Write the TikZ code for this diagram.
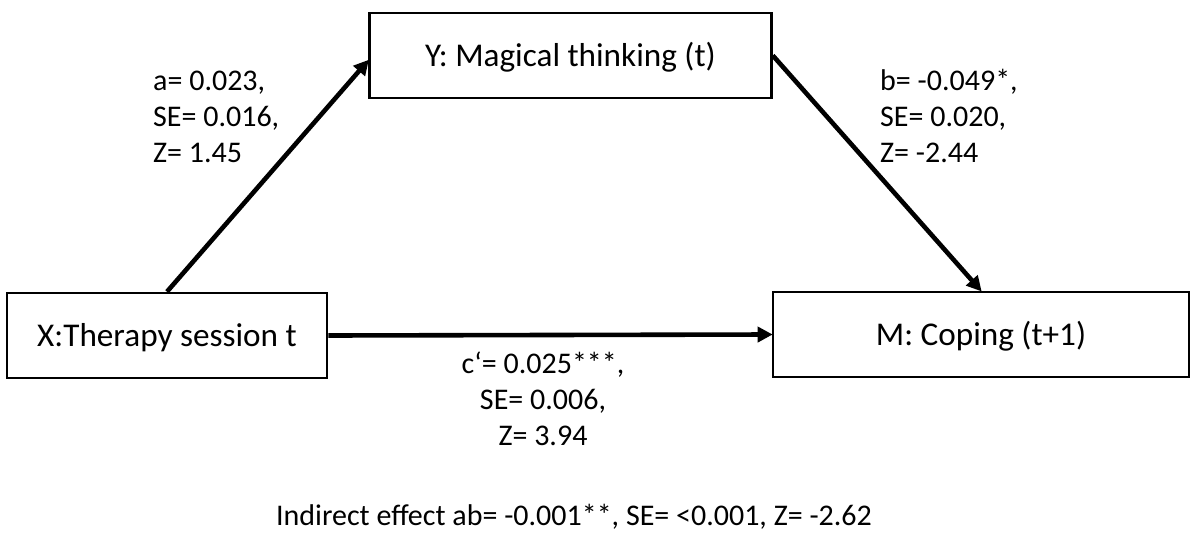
\documentclass[tikz,border=0pt]{standalone}
\usepackage{fontspec}
\setmainfont{Carlito}
\usetikzlibrary{arrows.meta}
\begin{document}
\begin{tikzpicture}[x=1pt,y=-1pt,
  box/.style={draw=black,line width=2.6pt,fill=white,inner sep=0pt,
    minimum height=85pt,text height=21.4pt,text depth=0pt,
    font=\fontsize{33.2}{40}\selectfont},
  path/.style={line width=4.6pt,-{Triangle[length=15pt,width=15pt]},shorten >=-1pt},
  est/.style={font=\fontsize{30}{36}\selectfont,inner sep=0pt}]
\useasboundingbox (0,0) rectangle (1192,533);
% variables
\node[box,minimum width=402pt] (Y) at (570.5,55.5) {Y: Magical thinking (t)};
\node[box,minimum width=320pt] (X) at (167,335.5) {X:Therapy session t};
\node[box,minimum width=416pt] (M) at (981,334.5) {M: Coping (t+1)};
% paths
\draw[path] (X.north) -- ([yshift=-5pt]Y.west);
\draw[path] (Y.east) -- (M.north);
\draw[path] (X.east) -- (M.west);
% estimates (anchored at the baseline of their last line)
\node[est,align=left,anchor=base west] (ea) at (153,162) {a= 0.023,\\SE= 0.016,\\Z= 1.45};
\node[est,align=left,anchor=base west] (eb) at (880,162) {b= -0.049*,\\SE= 0.020,\\Z= -2.44};
\node[est,align=center,anchor=base] (ec) at (543,445) {c\textquoteleft= 0.025***,\\SE= 0.006,\\Z= 3.94};
\node[est,anchor=base] (eab) at (574,525) {Indirect effect ab= -0.001**, SE= <0.001, Z= -2.62};
\end{tikzpicture}
\end{document}
